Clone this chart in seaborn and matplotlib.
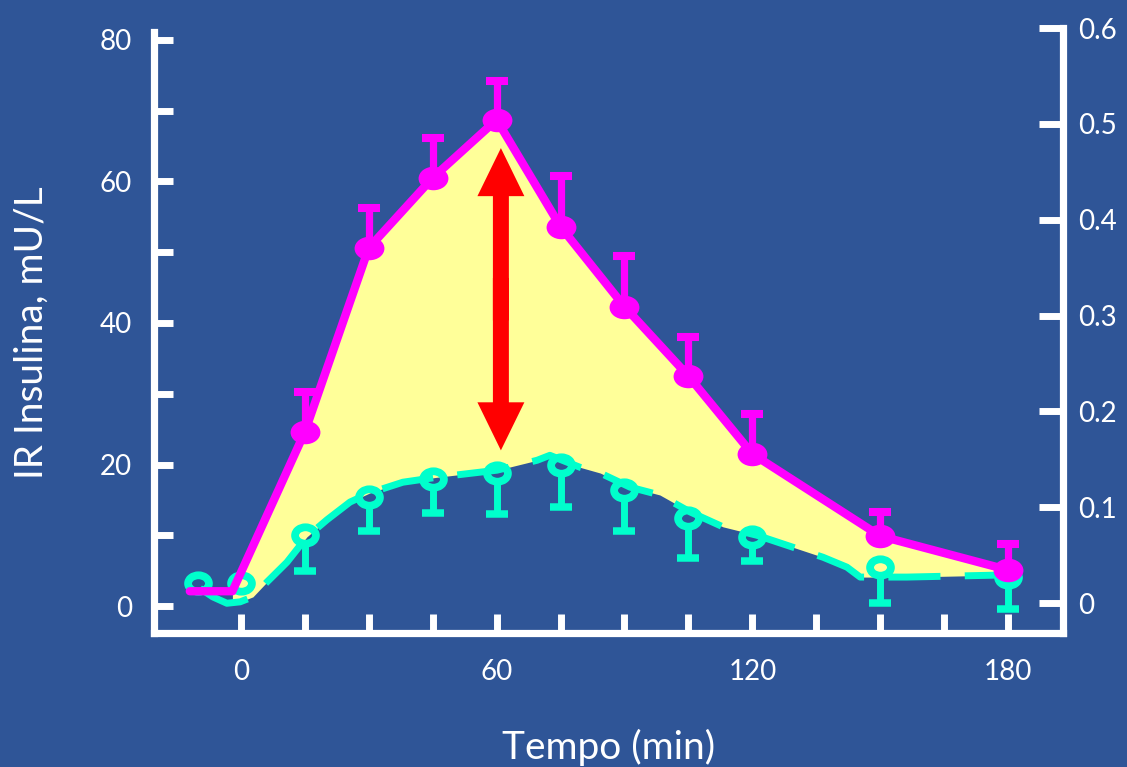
import numpy as np
import matplotlib
matplotlib.use("Agg")
import matplotlib.pyplot as plt
import matplotlib.path as mpath
from matplotlib.patches import FancyArrowPatch
from matplotlib.ticker import FixedLocator, FixedFormatter, NullFormatter
import seaborn as sns

# ---------------- data ----------------
# magenta series (filled markers, solid line, upward error bars)
mag_t = [15, 30, 45, 60, 75, 90, 105, 120, 150, 180]
mag_v = [24.6, 50.6, 60.5, 68.7, 53.6, 42.3, 32.5, 21.5, 9.9, 5.1]
mag_hi = [30.2, 56.3, 66.1, 74.2, 60.8, 49.5, 38.0, 27.1, 13.3, 8.8]
mag_line_t = [-12, -2, 15, 30, 45, 60, 75, 90, 105, 120, 150, 180]
mag_line_v = [2.1, 2.1, 24.6, 50.6, 60.5, 68.7, 53.6, 42.3, 32.5, 21.5, 9.9, 5.1]

# teal series (open markers, dashed smooth line, downward error bars)
teal_t = [-10, 0, 15, 30, 45, 60, 75, 90, 105, 120, 150, 180]
teal_v = [3.2, 3.2, 10.0, 15.4, 17.9, 18.8, 19.9, 16.4, 12.4, 9.8, 5.5, 4.1]
teal_err_t = [15, 30, 45, 60, 75, 90, 105, 120, 150, 180]
teal_err_v = [10.0, 15.4, 17.9, 18.8, 19.9, 16.4, 12.4, 9.8, 5.5, 4.1]
teal_lo = [4.9, 10.6, 13.1, 13.0, 14.0, 10.6, 6.8, 6.4, 0.4, -0.4]
fit_t = [-9.6, -6.6, -3.3, -0.2, 2.8, 6.1, 10.8, 15.5, 20.2, 25.6, 30.3, 38.0,
         46.0, 60.1, 69.5, 72.5, 79.6, 84.3, 91.3, 98.3, 105.4, 113.1, 121.1,
         136.6, 142.2, 145.3, 156.3, 179.3]
fit_v = [2.5, 1.3, 0.4, 0.6, 1.3, 3.4, 6.2, 9.8, 12.2, 14.7, 16.0, 17.5,
         18.2, 19.2, 20.6, 21.3, 19.6, 18.8, 16.8, 15.7, 13.3, 11.2, 10.0,
         6.9, 5.5, 4.1, 4.1, 4.4]

# red double arrow
arrow_t = 61
arrow_lo = 22.0
arrow_hi = 64.7

# axes ticks
x_major = [0, 60, 120, 180]
x_minor = [15, 30, 45, 75, 90, 105, 135, 150, 165]
y_major = [0, 20, 40, 60, 80]
y_minor = [10, 30, 50, 70]
y2_ticks = [0, 0.1, 0.2, 0.3, 0.4, 0.5, 0.6]
y2_labels = ["0", "0.1", "0.2", "0.3", "0.4", "0.5", "0.6"]

# ---------------- style ----------------
BG = "#2F5597"
MAG = "#FF00FF"
TEAL = "#00FFCC"
FILL = "#FFFF99"
RED = "#FF0000"
WHITE = "white"

sns.set_theme(style="white", rc={"axes.facecolor": BG, "figure.facecolor": BG})
plt.rcParams["font.family"] = ["Lato", "DejaVu Sans"]

W, H = 1127, 767
fig = plt.figure(figsize=(W / 100, H / 100), dpi=100)
ax = fig.add_axes([154 / W, (H - 633) / H, (1063 - 154) / W, (633 - 32) / H])
ax.set_facecolor(BG)

ax.set_xlim(-20.4, 192.9)
ax.set_ylim(-3.8, 81.1)

# ellipse marker
circ = mpath.Path.unit_circle()
ellipse = mpath.Path(circ.vertices * np.array([1.27, 1.0]), circ.codes)

# yellow area between curves
grid = np.unique(np.concatenate([np.array(mag_line_t, float), np.array(fit_t, float)]))
grid = grid[(grid >= mag_line_t[1]) & (grid <= fit_t[-1])]
upper = np.interp(grid, mag_line_t, mag_line_v)
lower = np.interp(grid, fit_t, fit_v)
ax.fill_between(grid, lower, upper, where=upper >= lower, color=FILL, lw=0, zorder=1)

# teal dashed line
sns.lineplot(x=fit_t, y=fit_v, ax=ax, color=TEAL, lw=5.0, sort=False,
             linestyle=(0, (7.5, 3.5)), zorder=3, dash_capstyle="butt",
             solid_joinstyle="round")

# teal error bars (downward), starting at marker's lower edge
px_per_unit = (633 - 32) / (81.1 + 3.8)
gap = 10 / px_per_unit
for t, v, lo in zip(teal_err_t, teal_err_v, teal_lo):
    ax.vlines(t, lo, v - gap, color=TEAL, lw=5.0, zorder=4)
ax.plot(teal_err_t, teal_lo, ls="none", marker="_", ms=16, mew=5.4, color=TEAL, zorder=4)
ax.plot(teal_t, teal_v, ls="none", marker=ellipse, ms=15, mfc="none",
        mec=TEAL, mew=5.6, zorder=5)

# magenta line, error bars, markers
sns.lineplot(x=mag_line_t, y=mag_line_v, ax=ax, color=MAG, lw=6.0, sort=False, zorder=6)
ax.vlines(mag_t, mag_v, mag_hi, color=MAG, lw=5.2, zorder=6)
ax.plot(mag_t, mag_hi, ls="none", marker="_", ms=16, mew=5.8, color=MAG, zorder=6)
ax.plot(mag_t, mag_v, ls="none", marker=ellipse, ms=21.5, mfc=MAG, mec=MAG, mew=0, zorder=7)

# red double arrow (two halves overlapping in the middle)
mid = (arrow_lo + arrow_hi) / 2
style = "simple,head_length=34.6,head_width=33.8,tail_width=11.5"
for start, end in ((mid - 3, arrow_hi), (mid + 3, arrow_lo)):
    ax.add_patch(FancyArrowPatch((arrow_t, start), (arrow_t, end), arrowstyle=style,
                                 mutation_scale=1, color=RED, lw=0,
                                 shrinkA=0, shrinkB=0, zorder=8))

# spines & ticks
for s in ["top", "right"]:
    ax.spines[s].set_visible(False)
for s in ["left", "bottom"]:
    ax.spines[s].set_color(WHITE)
    ax.spines[s].set_linewidth(5.2)

ax.xaxis.set_major_locator(FixedLocator(x_major))
ax.xaxis.set_minor_locator(FixedLocator(x_minor))
ax.yaxis.set_major_locator(FixedLocator(y_major))
ax.yaxis.set_minor_locator(FixedLocator(y_minor))
ax.xaxis.set_minor_formatter(NullFormatter())
ax.yaxis.set_minor_formatter(NullFormatter())
ax.tick_params(which="both", direction="in", color=WHITE, width=5.0, length=13.5,
               labelcolor=WHITE, labelsize=20)
ax.tick_params(axis="x", which="both", pad=19, bottom=True)
ax.tick_params(axis="y", which="both", pad=16, left=True)

ax.set_xlabel("Tempo (min)", color=WHITE, fontsize=28, labelpad=31)
ax.set_ylabel("IR Insulina, mU/L", color=WHITE, fontsize=28, labelpad=36)

# right axis
ax2 = fig.add_axes([154 / W, (H - 633) / H, (1063 - 154) / W, (633 - 28) / H])
ax2.patch.set_visible(False)
ax2.set_xlim(ax.get_xlim())
ax2.set_ylim(-0.0313, 0.6001)
for s in ["top", "left", "bottom"]:
    ax2.spines[s].set_visible(False)
ax2.spines["right"].set_color(WHITE)
ax2.spines["right"].set_linewidth(5.2)
ax2.xaxis.set_visible(False)
ax2.yaxis.tick_right()
ax2.yaxis.set_major_locator(FixedLocator(y2_ticks))
ax2.yaxis.set_major_formatter(FixedFormatter(y2_labels))
ax2.tick_params(axis="y", direction="in", color=WHITE, width=5.0, length=17,
                labelcolor=WHITE, labelsize=20, pad=11, right=True, left=False)

fig.savefig("out.png", dpi=100, facecolor=BG)
